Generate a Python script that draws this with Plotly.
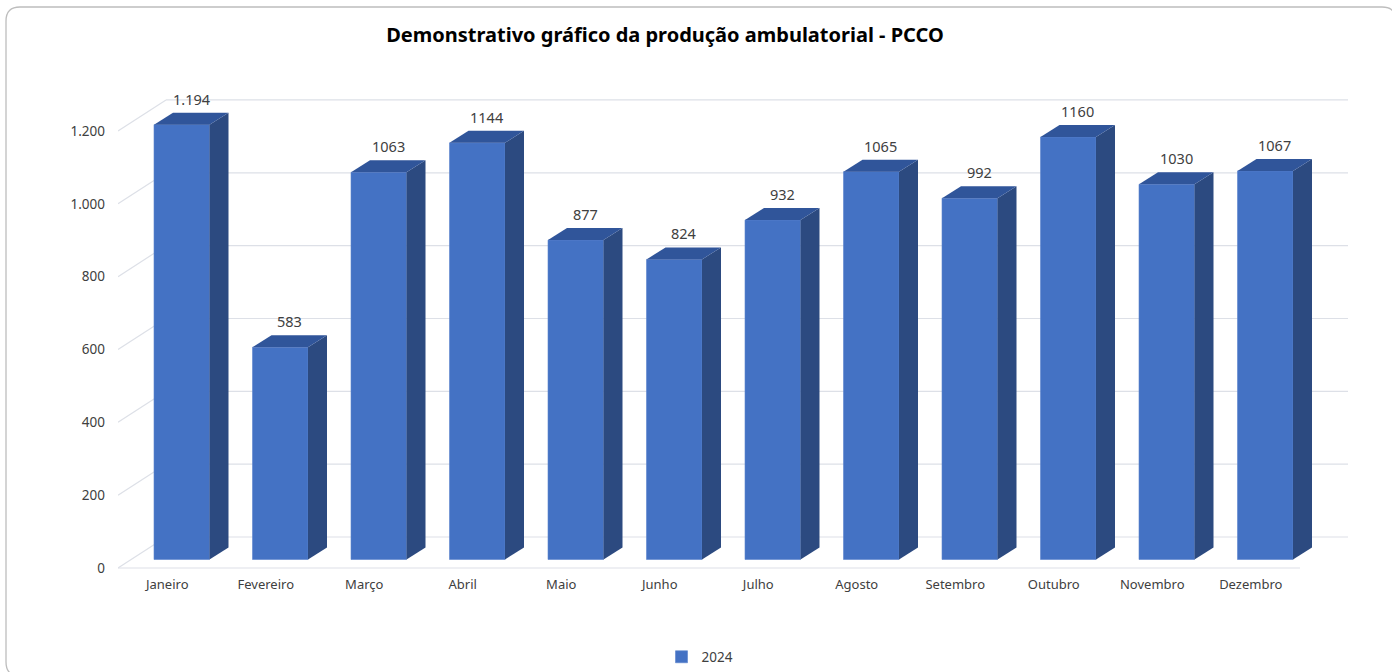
import plotly.graph_objects as go

# Monthly outpatient production, 2024
months = ["Janeiro", "Fevereiro", "Março", "Abril", "Maio", "Junho",
          "Julho", "Agosto", "Setembro", "Outubro", "Novembro", "Dezembro"]
values = [1194, 583, 1063, 1144, 877, 824, 932, 1065, 992, 1160, 1030, 1067]
value_labels = ["1.194", "583", "1063", "1144", "877", "824",
                "932", "1065", "992", "1160", "1030", "1067"]
y_ticks = [0, 200, 400, 600, 800, 1000, 1200]
series_name = "2024"

# Figure geometry (pixels)
W, H = 1392, 672
L, R, T, B = 118, 43, 60, 97
PX_PER_CAT = 98.5          # horizontal pixels per category
PX_PER_VAL = 0.3642        # vertical pixels per unit of value
ZERO_PX = 568              # pixel row of value 0 on the front plane

plot_w = W - L - R
plot_h = H - T - B
x_min = -0.5
x_max = x_min + plot_w / PX_PER_CAT
y_min = (ZERO_PX - (H - B)) / PX_PER_VAL
y_max = y_min + plot_h / PX_PER_VAL

def dx(px):
    return px / PX_PER_CAT

def dy(px):
    return px / PX_PER_VAL

# Oblique projection offsets for the 3D look
FACE_DX, FACE_DY = dx(14.5), dy(8.5)     # front plane -> bar front face
DEPTH_DX, DEPTH_DY = dx(19), dy(12)      # bar depth
WALL_DX, WALL_DY = dx(48), dy(31)        # front plane -> back wall
BAR_W = dx(55.5)

FRONT = "#4472C4"
SIDE = "#2C4A80"
TOP = "#30559A"
GRID = "#DDE0E7"
TEXT = "#404040"
FONT = "Noto Sans"

def to_paper_x(px):
    return (px - L) / plot_w

def to_paper_y(py):
    return ((H - B) - py) / plot_h

fig = go.Figure()

centers = [i + FACE_DX for i in range(len(months))]

# Front faces of the bars
fig.add_trace(go.Bar(
    x=centers, y=values, base=[FACE_DY] * len(values), width=BAR_W,
    name=series_name, marker=dict(color=FRONT, line=dict(color="#5B83CD", width=0.6)),
    hoverinfo="skip", showlegend=True,
))

# Side and top faces
for c, v in zip(centers, values):
    x0, x1 = c - BAR_W / 2, c + BAR_W / 2
    b0, t0 = FACE_DY, FACE_DY + v
    fig.add_trace(go.Scatter(
        x=[x1, x1 + DEPTH_DX, x1 + DEPTH_DX, x1, x1],
        y=[b0, b0 + DEPTH_DY, t0 + DEPTH_DY, t0, b0],
        mode="lines", fill="toself", fillcolor=SIDE, line=dict(width=0),
        hoverinfo="skip", showlegend=False,
    ))
    fig.add_trace(go.Scatter(
        x=[x0, x1, x1 + DEPTH_DX, x0 + DEPTH_DX, x0],
        y=[t0, t0, t0 + DEPTH_DY, t0 + DEPTH_DY, t0],
        mode="lines", fill="toself", fillcolor=TOP, line=dict(width=0),
        hoverinfo="skip", showlegend=False,
    ))

# Value labels above each bar
for c, v, lab in zip(centers, values, value_labels):
    fig.add_annotation(
        x=c + DEPTH_DX / 2, y=FACE_DY + v + DEPTH_DY, text=lab,
        showarrow=False, yanchor="middle", yshift=14,
        font=dict(family=FONT, size=14.5, color=TEXT),
    )

# Back-wall gridlines with their diagonal side-wall links
shapes = []
wall_right = (len(months) - 0.5) + WALL_DX
for v in y_ticks:
    shapes.append(dict(type="line", layer="below", xref="x", yref="y",
                       x0=x_min, y0=v, x1=x_min + WALL_DX, y1=v + WALL_DY,
                       line=dict(color=GRID, width=1.2)))
    shapes.append(dict(type="line", layer="below", xref="x", yref="y",
                       x0=x_min + WALL_DX, y0=v + WALL_DY, x1=wall_right, y1=v + WALL_DY,
                       line=dict(color=GRID, width=1.2)))
# Front edge of the floor
shapes.append(dict(type="line", layer="below", xref="x", yref="y",
                   x0=x_min, y0=0, x1=len(months) - 0.5, y1=0,
                   line=dict(color=GRID, width=1.2)))

# Rounded chart border
bx0, by0, bx1, by1, rad = 6, 7, 1396, 676, 14
pts = [
    ("M", bx0 + rad, by0), ("L", bx1 - rad, by0),
    ("Q", bx1, by0, bx1, by0 + rad), ("L", bx1, by1 - rad),
    ("Q", bx1, by1, bx1 - rad, by1), ("L", bx0 + rad, by1),
    ("Q", bx0, by1, bx0, by1 - rad), ("L", bx0, by0 + rad),
    ("Q", bx0, by0, bx0 + rad, by0),
]
path = ""
for p in pts:
    cmd, coords = p[0], p[1:]
    xy = []
    for k in range(0, len(coords), 2):
        xy.append(f"{to_paper_x(coords[k]):.5f},{to_paper_y(coords[k + 1]):.5f}")
    path += cmd + " ".join(xy) + " "
path += "Z"
shapes.append(dict(type="path", xref="paper", yref="paper", path=path,
                   line=dict(color="#BDBDBD", width=1.3), layer="above"))

fig.update_layout(
    width=W, height=H,
    margin=dict(l=L, r=R, t=T, b=B, autoexpand=False),
    paper_bgcolor="white", plot_bgcolor="white",
    separators=",.",
    shapes=shapes,
    title=dict(text="<b>Demonstrativo gráfico da produção ambulatorial - PCCO</b>",
               x=665 / W, xref="container", xanchor="center",
               y=1 - 35 / H, yref="container", yanchor="middle",
               font=dict(family=FONT, size=20, color="#000000")),
    xaxis=dict(range=[x_min, x_max], tickmode="array",
               tickvals=list(range(len(months))), ticktext=months,
               showgrid=False, zeroline=False, showline=False, ticks="",
               automargin=False,
               tickfont=dict(family=FONT, size=13, color=TEXT)),
    yaxis=dict(range=[y_min, y_max], tickmode="array", tickvals=y_ticks,
               tickformat=",d", showgrid=False, zeroline=False, showline=False,
               ticks="", ticklabelstandoff=12, automargin=False,
               tickfont=dict(family=FONT, size=13.5, color=TEXT)),
    legend=dict(orientation="h", x=to_paper_x(700), xanchor="center",
                y=to_paper_y(657), yanchor="middle",
                font=dict(family=FONT, size=13.5, color=TEXT)),
    barmode="overlay",
)

fig.write_html("out.html")
